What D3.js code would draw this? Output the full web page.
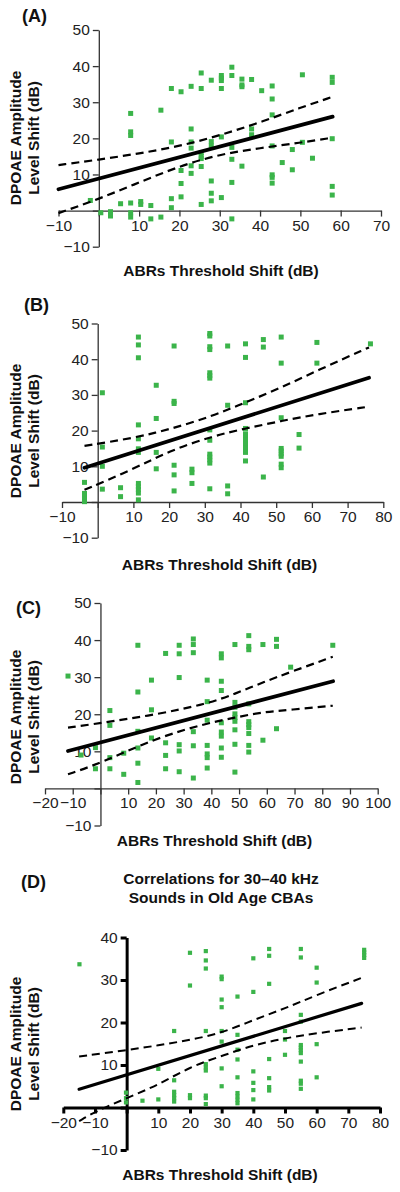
<!DOCTYPE html>
<html><head><meta charset="utf-8">
<script src="https://cdn.jsdelivr.net/npm/d3@7"></script>
<style>body{margin:0;background:#fff}svg{display:block}</style>
</head><body>
<svg id="chart" width="400" height="1192"></svg>
<script>
// ---------- DATA ----------
const panelLetters = ["(A)", "(B)", "(C)", "(D)"];
const yLabelLines = ["DPOAE Amplitude", "Level Shift (dB)"];
const xLabelText = "ABRs Threshold Shift (dB)";
const titleD = ["Correlations for 30\u201340 kHz", "Sounds in Old Age CBAs"];

const ticksAX = [-10,0,10,20,30,40,50,60,70];
const ticksAY = [-10,0,10,20,30,40,50];
const ticksBX = [-10,0,10,20,30,40,50,60,70,80];
const ticksBY = [-10,0,10,20,30,40,50];
const ticksCX = [-20,-10,0,10,20,30,40,50,60,70,80,90,100];
const ticksCY = [-10,0,10,20,30,40,50];
const ticksDX = [-20,-10,0,10,20,30,40,50,60,70,80];
const ticksDY = [-10,0,10,20,30,40];

const pointsA = [[-2.1,2.8],[0.5,-0.6],[2.9,-0.3],[2.9,-1.5],[5.4,1.9],
[7.9,26.9],[7.9,21.8],[7.9,20.8],[7.9,2.1],[7.9,-0.6],[7.9,-1.8],
[10.4,2.5],[10.4,1.7],[12.9,1.4],[12.9,-2.3],[15.4,27.8],[15.4,-1.8],
[18,33.8],[18,19.0],[18,3.3],[18,0.8],[20.4,32.9],[20.4,11.1],[20.4,7.5],[20.4,3.8],
[22.9,34.4],[22.9,22.6],[22.9,19.0],[22.9,17.3],[22.9,12.4],[22.9,10.3],
[25.4,38.1],[25.4,33.8],[25.4,16.0],[25.4,15.0],[25.4,14.4],[25.4,12.2],[25.4,1.7],
[27.9,36.1],[27.9,19.1],[27.9,17.9],[27.9,8.2],[27.9,4.8],[27.9,2.7],
[30.4,37.4],[30.4,36.7],[30.4,36.0],[30.4,33.8],[30.4,20.4],[30.4,3.6],
[33,39.7],[33,37.4],[33,17.5],[33,14.2],[33,7.8],[33,-2.3],
[35.5,36.4],[35.5,34.8],[35.5,34.3],[35.5,12.3],[37.9,36.3],[37.9,22.6],[37.9,21.0],
[40.4,33.2],[43,34.5],[43,30.9],[43,26.5],[43,17.9],[43,9.9],[43,9.2],[43,7.6],
[45.5,13.3],[48,16.9],[48,11.3],[50.5,37.6],[50.5,18.9],[53,14.5],
[57.9,36.9],[57.9,35.5],[57.9,19.9],[57.9,6.7],[57.9,4.3]];
const fitA = [[-10,5.9],[58,26.0]];
const upperA = [[-10,12.6],[0,14.1],[10,15.8],[20,17.8],[30,20.8],[40,24.4],[50,28.5],[58,31.5]];
const lowerA = [[-10,-0.7],[0,3.2],[10,7.8],[20,12.3],[30,15.6],[40,17.3],[50,18.8],[58,20.2]];

const pointsB = [[-3.7,5.5],[-3.7,2.4],[-3.7,1.6],[-3.7,0.9],[-3.7,0.1],
[1.3,30.6],[1.3,15.4],[1.3,10.0],[1.3,3.6],[6.4,4.0],[6.4,1.5],
[11.4,46.2],[11.4,44.0],[11.4,40.4],[11.4,21.6],[11.4,17.7],[11.4,14.9],[11.4,13.9],[11.4,5.2],[11.4,4.3],[11.4,3.5],[11.4,2.5],[11.4,0.6],
[16.4,32.7],[16.4,23.4],[16.4,13.9],[16.4,9.3],
[21.4,43.7],[21.4,28.2],[21.4,27.6],[21.4,10.3],[21.4,7.6],[21.4,3.1],
[26.4,9.2],[26.4,8.2],[26.4,5.2],
[31.4,47.2],[31.4,46.5],[31.4,43.5],[31.4,42.7],[31.4,36.2],[31.4,35.4],[31.4,34.7],[31.4,20.2],[31.4,17.3],[31.4,13.4],[31.4,12.6],[31.4,11.8],[31.4,10.9],[31.4,3.7],
[36.4,43.7],[36.4,27.1],[36.4,4.5],[36.4,2.3],
[41.4,44.3],[41.4,40.5],[41.4,27.8],[41.4,20.6],[41.4,19.1],[41.4,18.2],[41.4,17.4],[41.4,16.3],[41.4,15.0],[41.4,13.9],[41.4,11.5],
[46.4,45.5],[46.4,43.4],[46.4,7.0],
[51.4,46.2],[51.4,38.9],[51.4,23.6],[51.4,15.0],[51.4,14.3],[51.4,13.5],[51.4,12.8],[51.4,10.6],[51.4,9.6],
[56.4,18.9],[56.4,15.1],[61.4,44.7],[61.4,38.9],[76.4,44.3]];
const fitB = [[-3.7,9.6],[76,34.8]];
const upperB = [[-3.7,15.7],[10,17.9],[20,20.3],[32,24.0],[41.4,27.9],[51.4,32.0],[61.4,36.8],[76,43.3]];
const lowerB = [[-3.7,3.4],[10,9.2],[20,14.3],[32,18.4],[41.4,20.6],[51.4,22.7],[61.4,24.6],[76,26.7]];

const pointsC = [[-11.7,30.3],[-7,9],[-1.8,11.0],[-1.8,5.3],
[3.4,21.0],[3.4,17.0],[3.4,8.3],[3.4,5.3],[8.4,9.5],[8.4,3.8],
[13.5,38.6],[13.5,26.0],[13.5,15.4],[13.5,10.9],[13.5,6.8],[13.5,1.6],
[18.4,29.2],[18.4,21.2],[18.4,13.6],[23.5,36.4],[23.5,12.3],[23.5,8.9],[23.5,5.3],
[28.4,38.6],[28.4,36.3],[28.4,29.9],[28.4,11.8],[28.4,10.1],[28.4,4.5],
[33.5,40.3],[33.5,38.8],[33.5,36.6],[33.5,15.3],[33.5,11.5],[33.5,2.8],
[38.5,29.2],[38.5,23.4],[38.5,18.4],[38.5,11.6],[38.5,9.3],[38.5,8.3],[38.5,5.5],
[43.6,36.3],[43.6,35.2],[43.6,28.9],[43.6,26.4],[43.6,17.7],[43.6,15.2],[43.6,14.1],[43.6,10.9],[43.6,8.4],
[48.5,38.8],[48.5,23.2],[48.5,21.9],[48.5,20.1],[48.5,19.1],[48.5,18.1],[48.5,15.8],[48.5,11.9],[48.5,4.4],
[53.5,41.2],[53.5,38.3],[53.5,37.4],[53.5,22.8],[53.5,18.0],[53.5,17.2],[53.5,16.4],[53.5,14.8],[53.5,11.6],[53.5,9.8],
[58.6,38.8],[58.6,13.0],[63.5,40.2],[63.5,38.3],[63.5,16.1],[68.6,32.7],[83.8,38.6]];
const fitC = [[-11.7,10.1],[83.9,28.9]];
const upperC = [[-11.7,16.4],[0,17.6],[20,19.9],[38.5,22.8],[48.5,25.5],[58.6,28.6],[68.6,31.4],[83.8,35.5]];
const lowerC = [[-11.7,3.8],[0,6.8],[20,13.6],[38.5,17.6],[48.5,19.1],[58.6,20.6],[68.6,21.2],[83.8,22.3]];

const pointsD = [[-14.9,33.7],[-0.2,3.5],[-0.2,2.2],[-0.2,1.2],[5,1.6],[10,9.1],[10,1.9],
[15,18.0],[15,6.4],[15,3.7],[15,2.9],[15,2.2],[15,1.4],
[20,36.4],[20,28.7],[20,2.9],[20,2.2],
[25,36.8],[25,34.6],[25,32.7],[25,18.0],[25,10.2],[25,9.4],[25,8.7],[25,2.8],[25,2.2],[25,0.8],
[30,30.8],[30,30.2],[30,25.4],[30,23.6],[30,18.0],[30,15.5],[30,9.2],[30,5.0],
[35,26.1],[35,17.1],[35,13.6],[35,11.3],[35,7.1],[35,3.4],[35,2.6],[35,1.8],[35,1.0],
[40,35.1],[40,27.2],[40,8.5],[40,5.8],[40,4.1],[40,1.9],
[45,37.3],[45,35.7],[45,29.1],[45,11.4],[45,6.9],[45,4.8],[45,4.0],
[50,18.0],[50,16.0],[50,12.4],
[55,37.3],[55,35.3],[55,21.8],[55,20.2],[55,14.7],[55,14.1],[55,13.5],[55,12.8],[55,10.8],[55,6.3],[55,5.6],[55,4.4],
[60,32.9],[60,29.4],[60,14.9],[60,7.1],[75,37.1],[75,36.5],[75,35.9],[75,35.2]];
const fitD = [[-15,4.3],[74.2,24.5]];
const upperD = [[-15,12.0],[0,13.5],[10,14.6],[20,15.9],[30,17.5],[40,20.6],[50,23.3],[60,26.5],[74.2,30.5]];
const lowerD = [[-15,-3.2],[-10,-1.0],[0,2.2],[10,5.3],[20,9.6],[30,12.1],[40,14.7],[50,16.3],[60,17.5],[74.2,18.8]];

// ---------- LAYOUT ----------
const FONT = "'Liberation Sans', Arial, Helvetica, sans-serif";
const GREEN = "#3bb44a";
const panels = [
  {letter:panelLetters[0], pts:pointsA, fit:fitA, up:upperA, lo:lowerA, tx:ticksAX, ty:ticksAY,
   xr:[58.5,381], yr:[246.7,30], letterPos:[22,22], yLab:138, xLab:[221,276], axisW:1.3, axisC:"#333", sq:5, fitW:3.8, dashW:2.2},
  {letter:panelLetters[1], pts:pointsB, fit:fitB, up:upperB, lo:lowerB, tx:ticksBX, ty:ticksBY,
   xr:[62,383.3], yr:[537.7,323.5], letterPos:[24,311], yLab:431, xLab:[219.5,570], axisW:1.3, axisC:"#333", sq:5, fitW:3.8, dashW:2.2},
  {letter:panelLetters[2], pts:pointsC, fit:fitC, up:upperC, lo:lowerC, tx:ticksCX, ty:ticksCY,
   xr:[45,377.7], yr:[825.5,603], letterPos:[16,614], yLab:717, xLab:[214.5,846], axisW:1.3, axisC:"#333", sq:5, fitW:3.8, dashW:2.2},
  {letter:panelLetters[3], pts:pointsD, fit:fitD, up:upperD, lo:lowerD, tx:ticksDX, ty:ticksDY,
   xr:[63.3,380], yr:[1150,937.5], letterPos:[21,888], yLab:1044, xLab:[220,1180], axisW:3, axisC:"#000", sq:4.2, fitW:3.2, dashW:2}
];

const svg = d3.select("#chart");
const fmt = d => d === 0 ? "" : (d < 0 ? "\u2212" + Math.abs(d) : String(d));

panels.forEach((p, i) => {
  const xd = [p.tx[0], p.tx[p.tx.length-1]];
  const yd = [p.ty[0], p.ty[p.ty.length-1]];
  const x = d3.scaleLinear().domain(xd).range(p.xr);
  const y = d3.scaleLinear().domain(yd).range(p.yr);
  const g = svg.append("g");

  const xAxis = d3.axisBottom(x).tickValues(p.tx).tickFormat(fmt).tickSizeInner(6).tickSizeOuter(0).tickPadding(3);
  const yAxis = d3.axisLeft(y).tickValues(p.ty).tickFormat(fmt).tickSizeInner(6).tickSizeOuter(0).tickPadding(3);
  const gx = g.append("g").attr("transform", `translate(0,${y(0)})`).call(xAxis);
  const gy = g.append("g").attr("transform", `translate(${x(0)},0)`).call(yAxis);
  [gx, gy].forEach(a => {
    a.selectAll("path.domain").attr("stroke", p.axisC).attr("stroke-width", p.axisW);
    a.selectAll(".tick line").attr("stroke", p.axisC).attr("stroke-width", p.axisW);
    a.selectAll(".tick text").attr("font-family", FONT).attr("font-size", 15.5).attr("fill", "#222");
  });

  g.append("g").selectAll("rect").data(p.pts).join("rect")
    .attr("x", d => x(d[0]) - p.sq/2).attr("y", d => y(d[1]) - p.sq/2)
    .attr("width", p.sq).attr("height", p.sq).attr("fill", GREEN);

  const line = d3.line().x(d => x(d[0])).y(d => y(d[1])).curve(d3.curveBasis);
  [p.up, p.lo].forEach(band => {
    g.append("path").datum(band).attr("d", line).attr("fill","none").attr("stroke","#000")
      .attr("stroke-width", p.dashW).attr("stroke-dasharray","8,5");
  });
  g.append("path").datum(p.fit).attr("d", d3.line().x(d => x(d[0])).y(d => y(d[1])))
    .attr("fill","none").attr("stroke","#000").attr("stroke-width", p.fitW).attr("stroke-linecap","round");

  g.append("text").attr("x", p.letterPos[0]).attr("y", p.letterPos[1])
    .attr("font-family", FONT).attr("font-weight","bold").attr("font-size", 18).attr("fill","#111").text(p.letter);

  [16, 34].forEach((lx, k) => {
    g.append("text").attr("transform", `translate(${lx},${p.yLab}) rotate(-90)`)
      .attr("text-anchor","middle").attr("dy","0.35em").attr("font-family", FONT).attr("font-weight","bold")
      .attr("font-size", 15.5).attr("fill","#111").text(yLabelLines[k]);
  });

  g.append("text").attr("x", p.xLab[0]).attr("y", p.xLab[1]).attr("text-anchor","middle")
    .attr("font-family", FONT).attr("font-weight","bold").attr("font-size", 15.5).attr("fill","#111").text(xLabelText);

  if (i === 3) {
    titleD.forEach((t, k) => {
      g.append("text").attr("x", 221).attr("y", 884 + k*19).attr("text-anchor","middle")
        .attr("font-family", FONT).attr("font-weight","bold").attr("font-size", 15.5).attr("fill","#111").text(t);
    });
  }
});
</script>
</body></html>
